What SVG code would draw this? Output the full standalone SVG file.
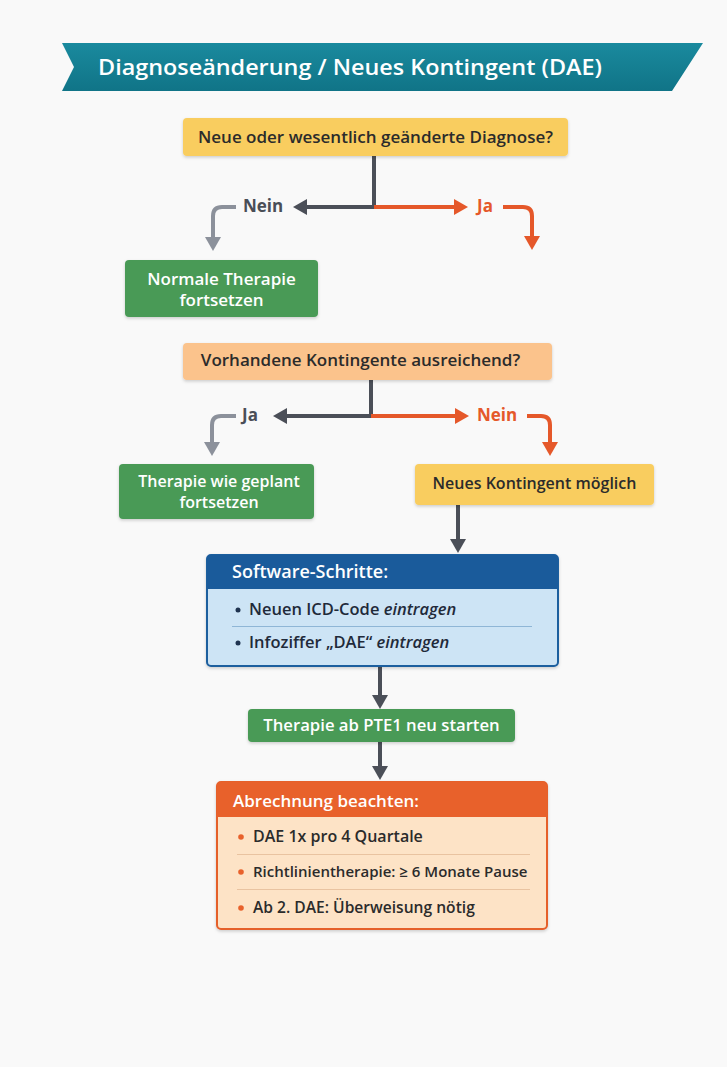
<svg xmlns="http://www.w3.org/2000/svg" width="727" height="1067" viewBox="0 0 727 1067">
  <style>
    text { font-family: "Open Sans", "Liberation Sans", sans-serif; font-weight: 600; }
    .dark { fill: #2b2b2b; font-size: 17px; }
    .white { fill: #ffffff; font-size: 16px; }
    .hdr { fill: #ffffff; font-size: 18px; }
    .item { fill: #1f2a3a; font-size: 16.5px; }
    .bill { fill: #2b2b2b; font-size: 16px; }
    .lbl-g { fill: #4a4e57; font-size: 17px; font-weight: 700; }
    .lbl-o { fill: #e5582a; font-size: 17px; font-weight: 700; }
    .ln-d { fill: none; stroke: #4b4f58; stroke-width: 4; }
    .ln-l { fill: none; stroke: #8c919b; stroke-width: 4; }
    .ln-o { fill: none; stroke: #e5582a; stroke-width: 4; }
    .sep-b { stroke: #8fb6d6; stroke-width: 1; }
    .sep-o { stroke: #e9c3a0; stroke-width: 1; }
  </style>
  <defs>
    <marker id="ah-d" markerUnits="userSpaceOnUse" markerWidth="14" markerHeight="16" refX="1" refY="8" orient="auto" viewBox="0 0 14 16">
      <path d="M0,0 L14,8 L0,16 z" fill="#4b4f58"/>
    </marker>
    <marker id="ah-l" markerUnits="userSpaceOnUse" markerWidth="14" markerHeight="16" refX="1" refY="8" orient="auto" viewBox="0 0 14 16">
      <path d="M0,0 L14,8 L0,16 z" fill="#8c919b"/>
    </marker>
    <marker id="ah-o" markerUnits="userSpaceOnUse" markerWidth="14" markerHeight="16" refX="1" refY="8" orient="auto" viewBox="0 0 14 16">
      <path d="M0,0 L14,8 L0,16 z" fill="#e5582a"/>
    </marker>
    <linearGradient id="teal" x1="0" y1="0" x2="0" y2="1">
      <stop offset="0" stop-color="#1a8a9e"/>
      <stop offset="1" stop-color="#107487"/>
    </linearGradient>
    <filter id="sh" x="-5%" y="-10%" width="110%" height="130%">
      <feDropShadow dx="0" dy="1.5" stdDeviation="1.5" flood-color="#000000" flood-opacity="0.18"/>
    </filter>
  </defs>

  <rect width="727" height="1067" fill="#f9f9f9"/>

  <g id="title">
    <path d="M62,43 L703,43 L672,91 L62,91 L74,67 Z" fill="url(#teal)"/>
    <text x="98" y="75" style="font-size:22px" fill="#ffffff" textLength="504" lengthAdjust="spacingAndGlyphs">Diagnoseänderung / Neues Kontingent (DAE)</text>
  </g>

  <g id="connectors">
    <path class="ln-d" d="M374,156 V207"/>
    <path class="ln-d" d="M376,207 H306" marker-end="url(#ah-d)"/>
    <path class="ln-o" d="M374,207 H455" marker-end="url(#ah-o)"/>
    <path class="ln-l" d="M236,207 H222 Q213,207 213,216 V238" marker-end="url(#ah-l)"/>
    <path class="ln-o" d="M503,207 H523 Q532,207 532,216 V237" marker-end="url(#ah-o)"/>

    <path class="ln-d" d="M371,380 V416"/>
    <path class="ln-d" d="M373,416 H286" marker-end="url(#ah-d)"/>
    <path class="ln-o" d="M371,416 H456" marker-end="url(#ah-o)"/>
    <path class="ln-l" d="M236,416 H221 Q212,416 212,425 V443" marker-end="url(#ah-l)"/>
    <path class="ln-o" d="M527,416 H541 Q550,416 550,425 V443" marker-end="url(#ah-o)"/>

    <path class="ln-d" d="M458,505 V540" marker-end="url(#ah-d)"/>
    <path class="ln-d" d="M380,666 V696" marker-end="url(#ah-d)"/>
    <path class="ln-d" d="M380,742 V767" marker-end="url(#ah-d)"/>

    <text class="lbl-g" x="243" y="212">Nein</text>
    <text class="lbl-o" x="477" y="212">Ja</text>
    <text class="lbl-g" x="242" y="421">Ja</text>
    <text class="lbl-o" x="477" y="421">Nein</text>
  </g>

  <g id="q1">
    <rect x="183" y="118" width="385" height="38" rx="4" fill="#f9cd5f" filter="url(#sh)"/>
    <text class="dark" x="375.5" y="142.5" text-anchor="middle">Neue oder wesentlich geänderte Diagnose?</text>
  </g>

  <g id="normal">
    <rect x="125" y="260" width="193" height="57" rx="4" fill="#4a9a56" filter="url(#sh)"/>
    <text class="white" x="221.5" y="285" text-anchor="middle" style="font-size:17px">Normale Therapie</text>
    <text class="white" x="221.5" y="306" text-anchor="middle" style="font-size:17px">fortsetzen</text>
  </g>

  <g id="q2">
    <rect x="183" y="343" width="369" height="37" rx="4" fill="#fbc38c" filter="url(#sh)"/>
    <text class="dark" x="360.5" y="366" text-anchor="middle">Vorhandene Kontingente ausreichend?</text>
  </g>

  <g id="planned">
    <rect x="119" y="464" width="195" height="55" rx="4" fill="#4a9a56" filter="url(#sh)"/>
    <text class="white" x="219" y="487" text-anchor="middle">Therapie wie geplant</text>
    <text class="white" x="219" y="508" text-anchor="middle">fortsetzen</text>
  </g>

  <g id="newquota">
    <rect x="415" y="464" width="239" height="41" rx="4" fill="#f9cd5f" filter="url(#sh)"/>
    <text class="dark" x="534.5" y="489" text-anchor="middle" style="font-size:16px">Neues Kontingent möglich</text>
  </g>

  <g id="software">
    <rect x="207" y="555" width="351" height="111" rx="4" fill="#cde4f5" stroke="#1e5e9e" stroke-width="2" filter="url(#sh)"/>
    <path d="M207,589 V559 Q207,555 211,555 H554 Q558,555 558,559 V589 Z" fill="#1a5b9b"/>
    <text class="hdr" x="232" y="578">Software-Schritte:</text>
    <circle cx="238" cy="610" r="2.5" fill="#1f3350"/>
    <text class="item" x="249" y="615">Neuen ICD-Code <tspan font-style="italic">eintragen</tspan></text>
    <line class="sep-b" x1="232" y1="626.5" x2="532" y2="626.5"/>
    <circle cx="238" cy="643" r="2.5" fill="#1f3350"/>
    <text class="item" x="249" y="648">Infoziffer „DAE“ <tspan font-style="italic">eintragen</tspan></text>
  </g>

  <g id="restart">
    <rect x="248" y="709" width="267" height="33" rx="4" fill="#4a9a56" filter="url(#sh)"/>
    <text class="white" x="381.5" y="731" text-anchor="middle" style="font-size:16.7px">Therapie ab PTE1 neu starten</text>
  </g>

  <g id="billing">
    <rect x="217" y="782" width="330" height="147" rx="4" fill="#fde3c6" stroke="#e5602c" stroke-width="2" filter="url(#sh)"/>
    <path d="M217,817 V786 Q217,782 221,782 H543 Q547,782 547,786 V817 Z" fill="#e8612b"/>
    <text class="hdr" x="233" y="807" style="font-size:17px">Abrechnung beachten:</text>
    <circle cx="241" cy="837" r="2.8" fill="#e8612b"/>
    <text class="bill" x="253" y="842">DAE 1x pro 4 Quartale</text>
    <line class="sep-o" x1="237" y1="854.5" x2="530" y2="854.5"/>
    <circle cx="241" cy="872" r="2.8" fill="#e8612b"/>
    <text class="bill" x="253" y="877" style="font-size:15px">Richtlinientherapie: ≥ 6 Monate Pause</text>
    <line class="sep-o" x1="237" y1="889.5" x2="530" y2="889.5"/>
    <circle cx="241" cy="908" r="2.8" fill="#e8612b"/>
    <text class="bill" x="253" y="913" style="font-size:15.6px">Ab 2. DAE: Überweisung nötig</text>
  </g>
</svg>
